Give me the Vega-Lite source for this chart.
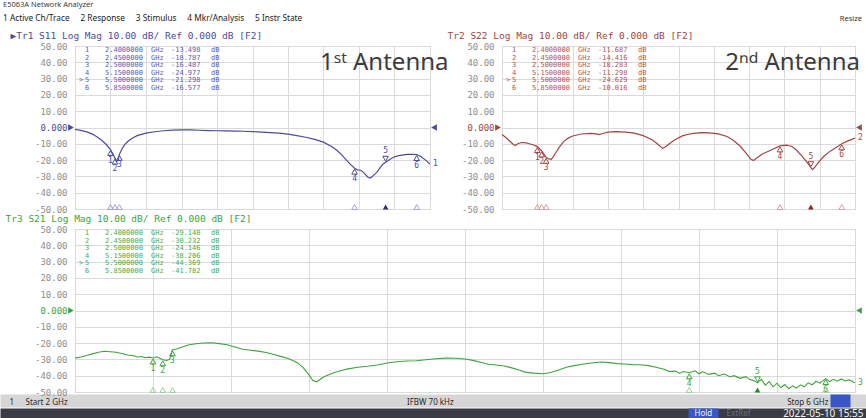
{
"$schema": "https://vega.github.io/schema/vega-lite/v6.json",
"autosize": "none",
"padding": {"left": 75, "top": 46, "right": 791, "bottom": 372},
"background": "#ffffff",
"config": {
  "view": {"stroke": "#a6a6a6", "strokeWidth": 1},
  "axis": {"gridColor": "#dadada", "gridWidth": 1, "labelFont": "DejaVu Sans Mono", "titleFont": "DejaVu Sans Mono"},
  "text": {"font": "DejaVu Sans Mono"},
  "locale": {"number": {"decimal": ".", "thousands": ",", "grouping": [3], "currency": ["$", ""], "minus": "-"}}
},
"datasets": {
  "s11": [
    {"f":2.00,"db":-1.2},{"f":2.05,"db":-1.6},{"f":2.10,"db":-2.2},{"f":2.15,"db":-3.0},{"f":2.20,"db":-4.2},{"f":2.25,"db":-5.8},{"f":2.30,"db":-7.8},{"f":2.35,"db":-10.3},{"f":2.40,"db":-13.5},{"f":2.43,"db":-16.6},{"f":2.45,"db":-18.8},{"f":2.47,"db":-20.8},{"f":2.485,"db":-20.2},{"f":2.50,"db":-16.5},{"f":2.53,"db":-13.0},{"f":2.56,"db":-10.5},{"f":2.60,"db":-8.3},{"f":2.65,"db":-6.4},{"f":2.70,"db":-5.0},{"f":2.80,"db":-3.5},{"f":2.90,"db":-2.6},{"f":3.00,"db":-2.0},{"f":3.10,"db":-1.6},{"f":3.20,"db":-1.4},{"f":3.30,"db":-1.5},{"f":3.40,"db":-1.7},{"f":3.50,"db":-1.9},{"f":3.60,"db":-2.0},{"f":3.70,"db":-2.1},{"f":3.80,"db":-2.2},{"f":3.90,"db":-2.3},{"f":4.00,"db":-2.5},{"f":4.10,"db":-2.8},{"f":4.20,"db":-3.1},{"f":4.30,"db":-3.5},{"f":4.40,"db":-4.1},{"f":4.50,"db":-5.0},{"f":4.60,"db":-6.0},{"f":4.70,"db":-7.3},{"f":4.80,"db":-9.0},{"f":4.90,"db":-12.0},{"f":4.95,"db":-14.0},{"f":5.00,"db":-16.5},{"f":5.05,"db":-19.5},{"f":5.10,"db":-22.5},{"f":5.15,"db":-25.0},{"f":5.18,"db":-26.0},{"f":5.22,"db":-26.2},{"f":5.26,"db":-28.0},{"f":5.30,"db":-30.5},{"f":5.33,"db":-31.0},{"f":5.36,"db":-29.5},{"f":5.40,"db":-27.5},{"f":5.44,"db":-24.5},{"f":5.47,"db":-22.5},{"f":5.50,"db":-21.3},{"f":5.55,"db":-19.5},{"f":5.60,"db":-18.0},{"f":5.65,"db":-17.2},{"f":5.70,"db":-16.8},{"f":5.75,"db":-16.5},{"f":5.80,"db":-16.4},{"f":5.85,"db":-16.6},{"f":5.90,"db":-18.0},{"f":5.95,"db":-20.0},{"f":6.00,"db":-22.5}
  ],
  "s22": [
    {"f":2.00,"db":-4.3},{"f":2.04,"db":-6.0},{"f":2.08,"db":-8.0},{"f":2.12,"db":-10.0},{"f":2.15,"db":-11.0},{"f":2.18,"db":-10.0},{"f":2.22,"db":-9.2},{"f":2.26,"db":-9.3},{"f":2.30,"db":-9.8},{"f":2.35,"db":-10.6},{"f":2.40,"db":-11.7},{"f":2.45,"db":-14.4},{"f":2.50,"db":-18.3},{"f":2.53,"db":-19.3},{"f":2.56,"db":-19.5},{"f":2.58,"db":-18.0},{"f":2.61,"db":-15.5},{"f":2.65,"db":-12.0},{"f":2.70,"db":-8.5},{"f":2.75,"db":-6.5},{"f":2.80,"db":-5.2},{"f":2.90,"db":-4.0},{"f":3.00,"db":-3.6},{"f":3.05,"db":-3.8},{"f":3.10,"db":-4.3},{"f":3.15,"db":-3.5},{"f":3.20,"db":-2.8},{"f":3.30,"db":-2.5},{"f":3.40,"db":-2.8},{"f":3.50,"db":-3.5},{"f":3.60,"db":-5.0},{"f":3.70,"db":-7.5},{"f":3.76,"db":-10.0},{"f":3.82,"db":-12.8},{"f":3.85,"db":-12.0},{"f":3.90,"db":-9.8},{"f":3.96,"db":-7.5},{"f":4.05,"db":-5.0},{"f":4.15,"db":-3.7},{"f":4.25,"db":-3.2},{"f":4.35,"db":-3.3},{"f":4.45,"db":-3.9},{"f":4.55,"db":-5.5},{"f":4.62,"db":-7.8},{"f":4.70,"db":-11.5},{"f":4.77,"db":-16.0},{"f":4.82,"db":-19.5},{"f":4.85,"db":-20.3},{"f":4.88,"db":-19.0},{"f":4.95,"db":-16.3},{"f":5.05,"db":-13.8},{"f":5.15,"db":-11.3},{"f":5.22,"db":-10.8},{"f":5.28,"db":-11.5},{"f":5.33,"db":-13.5},{"f":5.40,"db":-17.5},{"f":5.46,"db":-21.5},{"f":5.50,"db":-24.6},{"f":5.52,"db":-25.8},{"f":5.55,"db":-24.0},{"f":5.60,"db":-20.5},{"f":5.65,"db":-17.5},{"f":5.72,"db":-14.5},{"f":5.80,"db":-11.8},{"f":5.85,"db":-10.0},{"f":5.92,"db":-8.2},{"f":6.00,"db":-6.5}
  ],
  "s21": [
    {"f":2.00,"db":-29.2},{"f":2.03,"db":-28.5},{"f":2.06,"db":-27.6},{"f":2.09,"db":-26.6},{"f":2.12,"db":-25.6},{"f":2.15,"db":-25.0},{"f":2.18,"db":-25.3},{"f":2.21,"db":-25.6},{"f":2.24,"db":-26.4},{"f":2.27,"db":-27.3},{"f":2.30,"db":-27.8},{"f":2.32,"db":-28.5},{"f":2.34,"db":-28.2},{"f":2.36,"db":-29.0},{"f":2.38,"db":-28.6},{"f":2.40,"db":-29.1},{"f":2.42,"db":-28.4},{"f":2.44,"db":-29.6},{"f":2.45,"db":-30.2},{"f":2.47,"db":-30.6},{"f":2.485,"db":-30.0},{"f":2.50,"db":-24.1},{"f":2.52,"db":-23.6},{"f":2.55,"db":-22.4},{"f":2.58,"db":-21.2},{"f":2.62,"db":-20.4},{"f":2.66,"db":-19.9},{"f":2.70,"db":-19.8},{"f":2.74,"db":-20.3},{"f":2.78,"db":-21.0},{"f":2.82,"db":-22.4},{"f":2.86,"db":-23.8},{"f":2.90,"db":-24.4},{"f":2.94,"db":-24.9},{"f":2.98,"db":-25.8},{"f":3.02,"db":-27.0},{"f":3.06,"db":-28.3},{"f":3.10,"db":-29.8},{"f":3.14,"db":-32.0},{"f":3.17,"db":-35.0},{"f":3.20,"db":-39.5},{"f":3.22,"db":-43.0},{"f":3.24,"db":-43.8},{"f":3.26,"db":-42.0},{"f":3.28,"db":-40.5},{"f":3.32,"db":-38.5},{"f":3.36,"db":-37.0},{"f":3.40,"db":-35.8},{"f":3.45,"db":-34.8},{"f":3.50,"db":-34.2},{"f":3.55,"db":-33.4},{"f":3.60,"db":-32.2},{"f":3.65,"db":-31.4},{"f":3.70,"db":-31.0},{"f":3.75,"db":-30.8},{"f":3.80,"db":-30.2},{"f":3.85,"db":-29.6},{"f":3.90,"db":-29.2},{"f":3.95,"db":-29.3},{"f":4.00,"db":-29.8},{"f":4.04,"db":-30.6},{"f":4.08,"db":-31.8},{"f":4.12,"db":-33.0},{"f":4.16,"db":-33.4},{"f":4.20,"db":-34.0},{"f":4.24,"db":-35.2},{"f":4.28,"db":-36.6},{"f":4.31,"db":-37.8},{"f":4.35,"db":-38.4},{"f":4.40,"db":-38.8},{"f":4.44,"db":-38.0},{"f":4.48,"db":-36.5},{"f":4.52,"db":-34.8},{"f":4.56,"db":-33.8},{"f":4.60,"db":-33.0},{"f":4.65,"db":-32.2},{"f":4.70,"db":-31.6},{"f":4.74,"db":-32.0},{"f":4.78,"db":-32.6},{"f":4.82,"db":-32.8},{"f":4.86,"db":-33.2},{"f":4.90,"db":-33.3},{"f":4.94,"db":-33.8},{"f":4.98,"db":-34.8},{"f":5.02,"db":-36.0},{"f":5.05,"db":-37.5},{"f":5.08,"db":-37.2},{"f":5.10,"db":-38.6},{"f":5.12,"db":-37.4},{"f":5.15,"db":-38.2},{"f":5.18,"db":-37.0},{"f":5.20,"db":-38.8},{"f":5.22,"db":-37.6},{"f":5.25,"db":-39.2},{"f":5.28,"db":-38.4},{"f":5.30,"db":-40.0},{"f":5.33,"db":-39.0},{"f":5.36,"db":-40.8},{"f":5.38,"db":-40.0},{"f":5.41,"db":-41.6},{"f":5.44,"db":-40.6},{"f":5.46,"db":-42.4},{"f":5.48,"db":-43.0},{"f":5.50,"db":-44.4},{"f":5.52,"db":-42.2},{"f":5.54,"db":-45.8},{"f":5.56,"db":-43.6},{"f":5.58,"db":-46.8},{"f":5.60,"db":-44.6},{"f":5.62,"db":-47.4},{"f":5.64,"db":-45.4},{"f":5.66,"db":-48.0},{"f":5.68,"db":-46.2},{"f":5.70,"db":-47.6},{"f":5.72,"db":-45.6},{"f":5.74,"db":-46.8},{"f":5.76,"db":-44.4},{"f":5.78,"db":-45.6},{"f":5.80,"db":-43.4},{"f":5.82,"db":-44.6},{"f":5.85,"db":-41.8},{"f":5.87,"db":-43.6},{"f":5.89,"db":-42.2},{"f":5.91,"db":-43.4},{"f":5.93,"db":-42.0},{"f":5.95,"db":-43.2},{"f":5.97,"db":-42.6},{"f":6.00,"db":-44.4}
  ],
  "m11": [{"marker":1,"f":2.4,"db":-13.498},{"marker":2,"f":2.45,"db":-18.787},{"marker":3,"f":2.5,"db":-16.487},{"marker":4,"f":5.15,"db":-24.977},{"marker":5,"f":5.5,"db":-21.298},{"marker":6,"f":5.85,"db":-16.577}],
  "m22": [{"marker":1,"f":2.4,"db":-11.687},{"marker":2,"f":2.45,"db":-14.416},{"marker":3,"f":2.5,"db":-18.283},{"marker":4,"f":5.15,"db":-11.298},{"marker":5,"f":5.5,"db":-24.629},{"marker":6,"f":5.85,"db":-10.016}],
  "m21": [{"marker":1,"f":2.4,"db":-29.140},{"marker":2,"f":2.45,"db":-30.232},{"marker":3,"f":2.5,"db":-24.146},{"marker":4,"f":5.15,"db":-38.206},{"marker":5,"f":5.5,"db":-44.369},{"marker":6,"f":5.85,"db":-41.782}]
},
"vconcat": [
  {
    "hconcat": [
      {
        "width": 355, "height": 163,
        "title": {"text": "E5063A Network Analyzer", "subtitle": "1 Active Ch/Trace\u00a0\u00a0\u00a0\u00a0\u00a02 Response\u00a0\u00a0\u00a0\u00a0\u00a03 Stimulus\u00a0\u00a0\u00a0\u00a0\u00a04 Mkr/Analysis\u00a0\u00a0\u00a0\u00a0\u00a05 Instr State", "anchor": "start", "frame": "group", "dx": -72, "offset": 8, "font": "Noto Sans", "fontSize": 7.5, "fontWeight": "normal", "color": "#3a3a3a", "subtitleFont": "Noto Sans", "subtitleFontSize": 8.3, "subtitleColor": "#222222", "subtitlePadding": 5},
        "layer": [
          {"layer": [
            {"data": {"name": "s11"}, "mark": {"type": "line", "color": "#4b4b9e", "strokeWidth": 1.2, "clip": true},
             "encoding": {
               "x": {"field": "f", "type": "quantitative", "scale": {"domain": [2, 6], "nice": false, "zero": false},
                     "axis": {"orient": "top", "values": [2,2.4,2.8,3.2,3.6,4,4.4,4.8,5.2,5.6,6], "tickCount": 20, "grid": true, "labels": false, "ticks": false, "domain": false, "title": "▶Tr1 S11 Log Mag 10.00 dB/ Ref 0.000 dB [F2]", "titleX": -65, "titleY": -6, "titleAlign": "left", "titleAnchor": "start", "titleBaseline": "bottom", "titleFontSize": 9.5, "titleFontWeight": "normal", "titleColor": "#4b4b9e"}},
               "y": {"field": "db", "type": "quantitative", "scale": {"domain": [-50, 50], "nice": false, "zero": false},
                     "axis": {"orient": "left", "values": [-50,-40,-30,-20,-10,0,10,20,30,40,50], "tickCount": 20, "labelOverlap": false, "grid": true, "ticks": false, "domain": false, "title": null, "labelExpr": "datum.value == 0 ? '0.000' : format(datum.value, '.2f')", "labelFontSize": 9, "labelPadding": 8, "labelColor": {"condition": {"test": "datum.value == 0", "value": "#4b4b9e"}, "value": "#8e8e8e"}}}
             }},
            {"data": {"name": "m11"}, "transform": [{"filter": "datum.marker != 5"}], "mark": {"type": "point", "shape": "triangle-up", "size": 32, "filled": false, "strokeWidth": 1, "color": "#4b4b9e", "opacity": 1, "yOffset": 3.5}, "encoding": {"x": {"field": "f", "type": "quantitative", "axis": null}, "y": {"field": "db", "type": "quantitative"}}},
            {"data": {"name": "m11"}, "transform": [{"filter": "datum.marker == 5"}], "mark": {"type": "point", "shape": "triangle-down", "size": 32, "filled": false, "strokeWidth": 1, "color": "#4b4b9e", "opacity": 1, "yOffset": -3.5}, "encoding": {"x": {"field": "f", "type": "quantitative", "axis": null}, "y": {"field": "db", "type": "quantitative"}}},
            {"data": {"name": "m11"}, "transform": [{"filter": "datum.marker != 5"}], "mark": {"type": "text", "fontSize": 8, "color": "#4b4b9e", "dy": 11}, "encoding": {"x": {"field": "f", "type": "quantitative", "axis": null}, "y": {"field": "db", "type": "quantitative"}, "text": {"field": "marker", "type": "nominal"}}},
            {"data": {"name": "m11"}, "transform": [{"filter": "datum.marker == 5"}], "mark": {"type": "text", "fontSize": 8, "color": "#4b4b9e", "dy": -11}, "encoding": {"x": {"field": "f", "type": "quantitative", "axis": null}, "y": {"field": "db", "type": "quantitative"}, "text": {"field": "marker", "type": "nominal"}}},
            {"data": {"name": "m11"}, "transform": [{"filter": "datum.marker != 5"}], "mark": {"type": "point", "shape": "triangle-up", "size": 32, "filled": false, "strokeWidth": 1, "color": "#a4a4cc", "opacity": 1, "yOffset": -2}, "encoding": {"x": {"field": "f", "type": "quantitative", "axis": null}, "y": {"datum": -50}}},
            {"data": {"name": "m11"}, "transform": [{"filter": "datum.marker == 5"}], "mark": {"type": "point", "shape": "triangle-up", "size": 32, "filled": true, "color": "#2c2c8c", "opacity": 1, "yOffset": -2}, "encoding": {"x": {"field": "f", "type": "quantitative", "axis": null}, "y": {"datum": -50}}},
            {"data": {"values": [{"ref": 0}]}, "mark": {"type": "point", "shape": "triangle-right", "size": 45, "filled": true, "color": "#4b4b9e", "opacity": 1, "xOffset": -4}, "encoding": {"x": {"datum": 2, "axis": null}, "y": {"field": "ref", "type": "quantitative"}}},
            {"data": {"values": [{"ref": 0}]}, "mark": {"type": "point", "shape": "triangle-left", "size": 45, "filled": true, "color": "#4b4b9e", "opacity": 1, "xOffset": 4}, "encoding": {"x": {"datum": 6, "axis": null}, "y": {"field": "ref", "type": "quantitative"}}},
            {"data": {"name": "s11"}, "transform": [{"filter": "datum.f == 6"}], "mark": {"type": "text", "align": "left", "dx": 3, "fontSize": 8, "color": "#4b4b9e"}, "encoding": {"x": {"field": "f", "type": "quantitative", "axis": null}, "y": {"field": "db", "type": "quantitative"}, "text": {"value": "1"}}},
            {"data": {"values": [{"label": "1ˢᵗ Antenna"}]}, "mark": {"type": "text", "align": "left", "baseline": "alphabetic", "font": "Noto Sans", "fontSize": 24, "color": "#3c3c3c"}, "encoding": {"x": {"datum": 4.76, "axis": null}, "y": {"datum": 35}, "text": {"field": "label", "type": "nominal"}}}
          ],
          "resolve": {"axis": {"x": "independent"}}},
          {"data": {"name": "m11"},
           "encoding": {"x": {"datum": 2, "axis": null}, "y": {"field": "marker", "type": "quantitative", "scale": {"domain": [0.474, 21.92], "reverse": true, "nice": false, "zero": false}, "axis": null}},
           "layer": [
             {"mark": {"type": "text", "align": "center", "baseline": "middle", "dx": 12, "fontSize": 7, "color": "#5c5cae"}, "encoding": {"text": {"field": "marker", "type": "nominal"}}},
             {"transform": [{"filter": "datum.marker == 5"}], "mark": {"type": "text", "align": "center", "baseline": "middle", "dx": 6, "fontSize": 7, "color": "#5c5cae"}, "encoding": {"text": {"value": ">"}}},
             {"mark": {"type": "text", "align": "left", "baseline": "middle", "dx": 30, "fontSize": 7, "color": "#5c5cae"}, "encoding": {"text": {"field": "f", "type": "quantitative", "format": ".7f"}}},
             {"mark": {"type": "text", "align": "left", "baseline": "middle", "dx": 76, "fontSize": 7, "color": "#5c5cae"}, "encoding": {"text": {"value": "GHz"}}},
             {"mark": {"type": "text", "align": "left", "baseline": "middle", "dx": 96, "fontSize": 7, "color": "#5c5cae"}, "encoding": {"text": {"field": "db", "type": "quantitative", "format": ".3f"}}},
             {"mark": {"type": "text", "align": "left", "baseline": "middle", "dx": 136, "fontSize": 7, "color": "#5c5cae"}, "encoding": {"text": {"value": "dB"}}}
           ]}
        ],
        "resolve": {"scale": {"y": "independent"}, "axis": {"x": "independent"}}
      },
      {
        "width": 353, "height": 163,
        "title": {"text": "Resize", "anchor": "end", "frame": "group", "dx": 7, "offset": 8, "font": "Noto Sans", "fontSize": 7.5, "fontWeight": "normal", "color": "#333333"},
        "layer": [
          {"layer": [
            {"data": {"name": "s22"}, "mark": {"type": "line", "color": "#a04646", "strokeWidth": 1.2, "clip": true},
             "encoding": {
               "x": {"field": "f", "type": "quantitative", "scale": {"domain": [2, 6], "nice": false, "zero": false},
                     "axis": {"orient": "top", "values": [2,2.4,2.8,3.2,3.6,4,4.4,4.8,5.2,5.6,6], "tickCount": 20, "grid": true, "labels": false, "ticks": false, "domain": false, "title": "Tr2 S22 Log Mag 10.00 dB/ Ref 0.000 dB [F2]", "titleX": -55, "titleY": -6, "titleAlign": "left", "titleAnchor": "start", "titleBaseline": "bottom", "titleFontSize": 9.5, "titleFontWeight": "normal", "titleColor": "#a04646"}},
               "y": {"field": "db", "type": "quantitative", "scale": {"domain": [-50, 50], "nice": false, "zero": false},
                     "axis": {"orient": "left", "values": [-50,-40,-30,-20,-10,0,10,20,30,40,50], "tickCount": 20, "labelOverlap": false, "grid": true, "ticks": false, "domain": false, "title": null, "labelExpr": "datum.value == 0 ? '0.000' : format(datum.value, '.2f')", "labelFontSize": 9, "labelPadding": 8, "labelColor": {"condition": {"test": "datum.value == 0", "value": "#a04646"}, "value": "#8e8e8e"}}}
             }},
            {"data": {"name": "m22"}, "transform": [{"filter": "datum.marker != 5"}], "mark": {"type": "point", "shape": "triangle-up", "size": 32, "filled": false, "strokeWidth": 1, "color": "#a04646", "opacity": 1, "yOffset": 3.5}, "encoding": {"x": {"field": "f", "type": "quantitative", "axis": null}, "y": {"field": "db", "type": "quantitative"}}},
            {"data": {"name": "m22"}, "transform": [{"filter": "datum.marker == 5"}], "mark": {"type": "point", "shape": "triangle-down", "size": 32, "filled": false, "strokeWidth": 1, "color": "#a04646", "opacity": 1, "yOffset": -3.5}, "encoding": {"x": {"field": "f", "type": "quantitative", "axis": null}, "y": {"field": "db", "type": "quantitative"}}},
            {"data": {"name": "m22"}, "transform": [{"filter": "datum.marker != 5"}], "mark": {"type": "text", "fontSize": 8, "color": "#a04646", "dy": 11}, "encoding": {"x": {"field": "f", "type": "quantitative", "axis": null}, "y": {"field": "db", "type": "quantitative"}, "text": {"field": "marker", "type": "nominal"}}},
            {"data": {"name": "m22"}, "transform": [{"filter": "datum.marker == 5"}], "mark": {"type": "text", "fontSize": 8, "color": "#a04646", "dy": -11}, "encoding": {"x": {"field": "f", "type": "quantitative", "axis": null}, "y": {"field": "db", "type": "quantitative"}, "text": {"field": "marker", "type": "nominal"}}},
            {"data": {"name": "m22"}, "transform": [{"filter": "datum.marker != 5"}], "mark": {"type": "point", "shape": "triangle-up", "size": 32, "filled": false, "strokeWidth": 1, "color": "#d0a4a4", "opacity": 1, "yOffset": -2}, "encoding": {"x": {"field": "f", "type": "quantitative", "axis": null}, "y": {"datum": -50}}},
            {"data": {"name": "m22"}, "transform": [{"filter": "datum.marker == 5"}], "mark": {"type": "point", "shape": "triangle-up", "size": 32, "filled": true, "color": "#9a2020", "opacity": 1, "yOffset": -2}, "encoding": {"x": {"field": "f", "type": "quantitative", "axis": null}, "y": {"datum": -50}}},
            {"data": {"values": [{"ref": 0}]}, "mark": {"type": "point", "shape": "triangle-right", "size": 45, "filled": true, "color": "#a04646", "opacity": 1, "xOffset": -4}, "encoding": {"x": {"datum": 2, "axis": null}, "y": {"field": "ref", "type": "quantitative"}}},
            {"data": {"values": [{"ref": 0}]}, "mark": {"type": "point", "shape": "triangle-left", "size": 45, "filled": true, "color": "#a04646", "opacity": 1, "xOffset": 4}, "encoding": {"x": {"datum": 6, "axis": null}, "y": {"field": "ref", "type": "quantitative"}}},
            {"data": {"name": "s22"}, "transform": [{"filter": "datum.f == 6"}], "mark": {"type": "text", "align": "left", "dx": 3, "fontSize": 8, "color": "#a04646"}, "encoding": {"x": {"field": "f", "type": "quantitative", "axis": null}, "y": {"field": "db", "type": "quantitative"}, "text": {"value": "2"}}},
            {"data": {"values": [{"label": "2ⁿᵈ Antenna"}]}, "mark": {"type": "text", "align": "left", "baseline": "alphabetic", "font": "Noto Sans", "fontSize": 24, "color": "#3c3c3c"}, "encoding": {"x": {"datum": 4.53, "axis": null}, "y": {"datum": 35}, "text": {"field": "label", "type": "nominal"}}}
          ],
          "resolve": {"axis": {"x": "independent"}}},
          {"data": {"name": "m22"},
           "encoding": {"x": {"datum": 2, "axis": null}, "y": {"field": "marker", "type": "quantitative", "scale": {"domain": [0.474, 21.92], "reverse": true, "nice": false, "zero": false}, "axis": null}},
           "layer": [
             {"mark": {"type": "text", "align": "center", "baseline": "middle", "dx": 12, "fontSize": 7, "color": "#b45454"}, "encoding": {"text": {"field": "marker", "type": "nominal"}}},
             {"transform": [{"filter": "datum.marker == 5"}], "mark": {"type": "text", "align": "center", "baseline": "middle", "dx": 6, "fontSize": 7, "color": "#b45454"}, "encoding": {"text": {"value": ">"}}},
             {"mark": {"type": "text", "align": "left", "baseline": "middle", "dx": 30, "fontSize": 7, "color": "#b45454"}, "encoding": {"text": {"field": "f", "type": "quantitative", "format": ".7f"}}},
             {"mark": {"type": "text", "align": "left", "baseline": "middle", "dx": 76, "fontSize": 7, "color": "#b45454"}, "encoding": {"text": {"value": "GHz"}}},
             {"mark": {"type": "text", "align": "left", "baseline": "middle", "dx": 96, "fontSize": 7, "color": "#b45454"}, "encoding": {"text": {"field": "db", "type": "quantitative", "format": ".3f"}}},
             {"mark": {"type": "text", "align": "left", "baseline": "middle", "dx": 136, "fontSize": 7, "color": "#b45454"}, "encoding": {"text": {"value": "dB"}}}
           ]}
        ],
        "resolve": {"scale": {"y": "independent"}, "axis": {"x": "independent"}}
      }
    ],
    "spacing": 72,
    "bounds": "flush"
  },
  {
    "width": 780, "height": 163,
    "layer": [
      {"layer": [
        {"data": {"name": "s21"}, "mark": {"type": "line", "color": "#3ea23e", "strokeWidth": 1.1, "clip": true},
         "encoding": {
           "x": {"field": "f", "type": "quantitative", "scale": {"domain": [2, 6], "nice": false, "zero": false},
                 "axis": {"orient": "top", "values": [2,2.4,2.8,3.2,3.6,4,4.4,4.8,5.2,5.6,6], "tickCount": 20, "grid": true, "labels": false, "ticks": false, "domain": false, "title": "Tr3 S21 Log Mag 10.00 dB/ Ref 0.000 dB [F2]", "titleX": -70, "titleY": -5.5, "titleAlign": "left", "titleAnchor": "start", "titleBaseline": "bottom", "titleFontSize": 9.5, "titleFontWeight": "normal", "titleColor": "#3ea23e"}},
           "y": {"field": "db", "type": "quantitative", "scale": {"domain": [-50, 50], "nice": false, "zero": false},
                 "axis": {"orient": "left", "values": [-50,-40,-30,-20,-10,0,10,20,30,40,50], "tickCount": 20, "labelOverlap": false, "grid": true, "ticks": false, "domain": false, "title": null, "labelExpr": "datum.value == 0 ? '0.000' : format(datum.value, '.2f')", "labelFontSize": 9, "labelPadding": 8, "labelColor": {"condition": {"test": "datum.value == 0", "value": "#3ea23e"}, "value": "#8e8e8e"}}}
         }},
        {"data": {"name": "m21"}, "transform": [{"filter": "datum.marker != 5"}], "mark": {"type": "point", "shape": "triangle-up", "size": 32, "filled": false, "strokeWidth": 1, "color": "#3ea23e", "opacity": 1, "yOffset": 3.5}, "encoding": {"x": {"field": "f", "type": "quantitative", "axis": null}, "y": {"field": "db", "type": "quantitative"}}},
        {"data": {"name": "m21"}, "transform": [{"filter": "datum.marker == 5"}], "mark": {"type": "point", "shape": "triangle-down", "size": 32, "filled": false, "strokeWidth": 1, "color": "#3ea23e", "opacity": 1, "yOffset": -3.5}, "encoding": {"x": {"field": "f", "type": "quantitative", "axis": null}, "y": {"field": "db", "type": "quantitative"}}},
        {"data": {"name": "m21"}, "transform": [{"filter": "datum.marker != 5"}], "mark": {"type": "text", "fontSize": 8, "color": "#3ea23e", "dy": 11}, "encoding": {"x": {"field": "f", "type": "quantitative", "axis": null}, "y": {"field": "db", "type": "quantitative"}, "text": {"field": "marker", "type": "nominal"}}},
        {"data": {"name": "m21"}, "transform": [{"filter": "datum.marker == 5"}], "mark": {"type": "text", "fontSize": 8, "color": "#3ea23e", "dy": -11}, "encoding": {"x": {"field": "f", "type": "quantitative", "axis": null}, "y": {"field": "db", "type": "quantitative"}, "text": {"field": "marker", "type": "nominal"}}},
        {"data": {"name": "m21"}, "transform": [{"filter": "datum.marker != 5"}], "mark": {"type": "point", "shape": "triangle-up", "size": 32, "filled": false, "strokeWidth": 1, "color": "#9ccc9c", "opacity": 1, "yOffset": -2},
         "encoding": {"x": {"field": "f", "type": "quantitative",
            "axis": {"orient": "bottom", "offset": 2, "values": [3.836, 5.923, 2, 2.0001, 3.82, 6], "tickCount": 20, "grid": false, "domain": false, "ticks": true, "tickSize": 13,
                     "tickWidth": {"condition": [{"test": "datum.value == 3.836", "value": 866}, {"test": "datum.value == 5.923", "value": 20}], "value": 0},
                     "tickColor": {"condition": {"test": "datum.value == 5.923", "value": "#3a56c6"}, "value": "#d6d6d6"},
                     "labelExpr": "datum.value == 2 ? '1' : datum.value == 2.0001 ? 'Start 2 GHz' : datum.value == 3.82 ? 'IFBW 70 kHz' : datum.value == 6 ? 'Stop 6 GHz' : ''",
                     "labelAlign": {"condition": [{"test": "datum.value == 2 || datum.value == 2.0001", "value": "left"}, {"test": "datum.value == 6", "value": "right"}], "value": "center"},
                     "labelOffset": {"condition": [{"test": "datum.value == 2", "value": -66}, {"test": "datum.value == 2.0001", "value": -50}, {"test": "datum.value == 6", "value": -27}], "value": 0},
                     "labelPadding": -4.5, "labelBaseline": "middle", "labelFont": "Noto Sans", "labelFontSize": 8, "labelColor": "#2a2a2a", "labelFlush": false, "labelOverlap": false, "labelBound": false, "title": null}},
            "y": {"datum": -50}}},
        {"data": {"name": "m21"}, "transform": [{"filter": "datum.marker == 5"}], "mark": {"type": "point", "shape": "triangle-up", "size": 32, "filled": true, "color": "#1e8c1e", "opacity": 1, "yOffset": -2}, "encoding": {"x": {"field": "f", "type": "quantitative", "axis": null}, "y": {"datum": -50}}},
        {"data": {"values": [{"ref": 0}]}, "mark": {"type": "point", "shape": "triangle-right", "size": 45, "filled": true, "color": "#3ea23e", "opacity": 1, "xOffset": -4},
         "encoding": {"x": {"datum": 2,
            "axis": {"orient": "bottom", "offset": 16, "values": [3.836, 5.22, 5.4, 6], "tickCount": 20, "grid": false, "domain": false, "ticks": true, "tickSize": 10,
                     "tickWidth": {"condition": [{"test": "datum.value == 3.836", "value": 866}, {"test": "datum.value == 5.22", "value": 30}], "value": 0},
                     "tickColor": {"condition": {"test": "datum.value == 5.22", "value": "#3a56c6"}, "value": "#3a3d45"},
                     "labelExpr": "datum.value == 5.22 ? 'Hold' : datum.value == 5.4 ? 'ExtRef' : datum.value == 6 ? '2022-05-10 15:55' : ''",
                     "labelColor": {"condition": {"test": "datum.value == 5.4", "value": "#6a6d75"}, "value": "#f4f4f4"},
                     "labelAlign": {"condition": {"test": "datum.value == 6", "value": "right"}, "value": "center"},
                     "labelOffset": {"condition": {"test": "datum.value == 6", "value": 8}, "value": 0},
                     "labelFontSize": {"condition": {"test": "datum.value == 6", "value": 10}, "value": 8},
                     "labelPadding": -5, "labelBaseline": "middle", "labelFont": "Noto Sans", "labelFlush": false, "labelOverlap": false, "labelBound": false, "title": null}},
            "y": {"field": "ref", "type": "quantitative"}}},
        {"data": {"values": [{"ref": 0}]}, "mark": {"type": "point", "shape": "triangle-left", "size": 45, "filled": true, "color": "#3ea23e", "opacity": 1, "xOffset": 4}, "encoding": {"x": {"datum": 6, "axis": null}, "y": {"field": "ref", "type": "quantitative"}}},
        {"data": {"name": "s21"}, "transform": [{"filter": "datum.f == 6"}], "mark": {"type": "text", "align": "left", "dx": 3, "fontSize": 8, "color": "#3ea23e"}, "encoding": {"x": {"field": "f", "type": "quantitative", "axis": null}, "y": {"field": "db", "type": "quantitative"}, "text": {"value": "3"}}}
      ],
      "resolve": {"axis": {"x": "independent"}}},
      {"data": {"name": "m21"},
       "encoding": {"x": {"datum": 2, "axis": null}, "y": {"field": "marker", "type": "quantitative", "scale": {"domain": [0.474, 21.92], "reverse": true, "nice": false, "zero": false}, "axis": null}},
       "layer": [
         {"mark": {"type": "text", "align": "center", "baseline": "middle", "dx": 12, "fontSize": 7, "color": "#48ac48"}, "encoding": {"text": {"field": "marker", "type": "nominal"}}},
         {"transform": [{"filter": "datum.marker == 5"}], "mark": {"type": "text", "align": "center", "baseline": "middle", "dx": 6, "fontSize": 7, "color": "#48ac48"}, "encoding": {"text": {"value": ">"}}},
         {"mark": {"type": "text", "align": "left", "baseline": "middle", "dx": 30, "fontSize": 7, "color": "#48ac48"}, "encoding": {"text": {"field": "f", "type": "quantitative", "format": ".7f"}}},
         {"mark": {"type": "text", "align": "left", "baseline": "middle", "dx": 76, "fontSize": 7, "color": "#48ac48"}, "encoding": {"text": {"value": "GHz"}}},
         {"mark": {"type": "text", "align": "left", "baseline": "middle", "dx": 96, "fontSize": 7, "color": "#48ac48"}, "encoding": {"text": {"field": "db", "type": "quantitative", "format": ".3f"}}},
         {"mark": {"type": "text", "align": "left", "baseline": "middle", "dx": 136, "fontSize": 7, "color": "#48ac48"}, "encoding": {"text": {"value": "dB"}}}
       ]}
    ],
    "resolve": {"scale": {"y": "independent"}, "axis": {"x": "independent"}}
  }
],
"spacing": 183,
"bounds": "flush"
}
